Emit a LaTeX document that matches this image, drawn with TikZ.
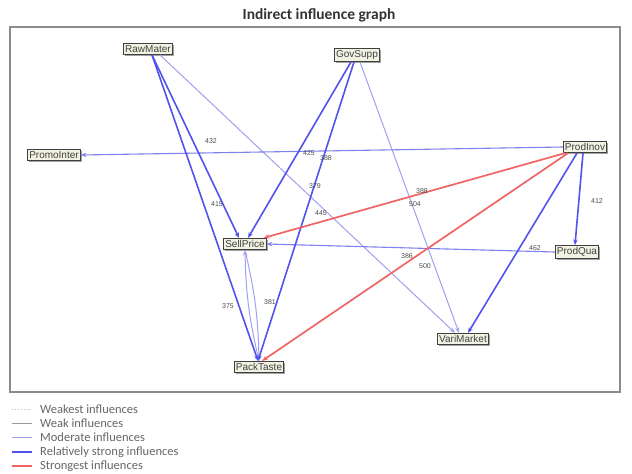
\documentclass[tikz,border=0pt]{standalone}
\usepackage{fontspec}
\setmainfont{Liberation Sans}
\newfontfamily\calib{Carlito}
\usetikzlibrary{arrows.meta,shadows}
\definecolor{strongblue}{HTML}{5252EC}
\definecolor{modblue}{HTML}{A0A0F2}
\definecolor{midblue}{HTML}{8080EE}
\definecolor{strongred}{HTML}{F06464}
\definecolor{nodefill}{HTML}{F2F2E2}
\tikzset{
  vnode/.style={draw=black!75, fill=nodefill, line width=0.9pt, inner xsep=1.6pt, inner ysep=2pt,
     font=\fontsize{10}{11}\selectfont, text=black!75,
     drop shadow={shadow xshift=1.8pt, shadow yshift=-1.8pt, fill=black!45, opacity=0.8}},
  tip/.style={-{Stealth[length=5.5pt,width=4.5pt]}},
  strong/.style={tip, draw=strongblue, line width=1.6pt},
  moderate/.style={tip, draw=modblue, line width=1pt},
  middle/.style={tip, draw=midblue, line width=1.1pt},
  strongest/.style={tip, draw=strongred, line width=1.7pt},
  elab/.style={font=\fontsize{7}{8}\selectfont, text=black!70, inner sep=0.5pt},
  legtext/.style={anchor=west, font=\calib\fontsize{12.5}{13}\selectfont, text=black!60, inner sep=0pt},
}
\begin{document}
\begin{tikzpicture}[x=1pt,y=-1pt]
\useasboundingbox (0,0) rectangle (632,474);
% title and frame
\node[font=\calib\bfseries\fontsize{15.5}{17}\selectfont, text=black!80] (title) at (319,15) {Indirect influence graph};
\draw[black!45, line width=1.2pt] (10,27) rectangle (620,392);
% nodes
\node[vnode] (raw) at (148,49) {RawMater};
\node[vnode] (gov) at (357,55) {GovSupp};
\node[vnode] (promo) at (54,155) {PromoInter};
\node[vnode] (inov) at (585,147) {ProdInov};
\node[vnode] (sell) at (245,244) {SellPrice};
\node[vnode] (qua) at (577,252) {ProdQua};
\node[vnode] (vari) at (463,339) {VariMarket};
\node[vnode] (pack) at (259,367) {PackTaste};
% moderate edges
\draw[moderate] ([xshift=12pt]raw.south) -- ([xshift=-8pt]vari.north);
\draw[moderate] ([xshift=3pt]gov.south) -- ([xshift=-4pt]vari.north);
\draw[moderate] (sell.south) to[bend left=6] (pack.north);
\draw[moderate] (pack.north) to[bend left=6] (sell.south);
\draw[middle] (inov.west) -- (promo.east);
\draw[middle] (qua.west) -- (sell.east);
% strong edges
\draw[strong] ([xshift=4pt]raw.south) -- ([xshift=-6pt]sell.north);
\draw[strong] ([xshift=4pt]raw.south) -- ([xshift=-1pt]pack.north);
\draw[strong] ([xshift=-6pt]gov.south) -- ([xshift=3pt]sell.north);
\draw[strong] ([xshift=-3pt]gov.south) -- ([xshift=-1pt]pack.north);
\draw[strong] ([xshift=-8pt]inov.south) -- ([xshift=5pt]vari.north);
\draw[strong] ([xshift=-2pt]inov.south) -- ([xshift=-2pt]qua.north);
% strongest edges
\draw[strongest] ([xshift=-20pt]inov.south) -- ([xshift=-3pt]sell.north east);
\draw[strongest] ([xshift=-17pt]inov.south) -- ([xshift=-22pt]pack.north east);
% edge labels
\node[elab] (l432) at (211,141) {432};
\node[elab] (l415) at (217,204) {415};
\node[elab] (l425) at (309,153) {425};
\node[elab] (l388a) at (326,158) {388};
\node[elab] (l379) at (315,186) {379};
\node[elab] (l445) at (321,213) {445};
\node[elab] (l504) at (415,204) {504};
\node[elab] (l388b) at (422,191) {388};
\node[elab] (l412) at (597,201) {412};
\node[elab] (l462) at (535,248) {462};
\node[elab] (l386) at (407,256) {386};
\node[elab] (l500) at (425,266) {500};
\node[elab] (l375) at (228,306) {375};
\node[elab] (l381) at (270,302) {381};
% legend
\coordinate (a1) at (12,409); \coordinate (b1) at (32,409);
\coordinate (a2) at (12,423); \coordinate (b2) at (32,423);
\coordinate (a3) at (12,437); \coordinate (b3) at (32,437);
\coordinate (a4) at (12,452); \coordinate (b4) at (32,452);
\coordinate (a5) at (12,466); \coordinate (b5) at (32,466);
\draw[black!25, dotted, line width=0.9pt] (a1) -- (b1);
\draw[black!40, line width=0.9pt] (a2) -- (b2);
\draw[modblue, line width=0.9pt] (a3) -- (b3);
\draw[strongblue, line width=1.6pt] (a4) -- (b4);
\draw[strongred, line width=1.6pt] (a5) -- (b5);
\node[legtext] (t1) at (40,409) {Weakest influences};
\node[legtext] (t2) at (40,423) {Weak influences};
\node[legtext] (t3) at (40,437) {Moderate influences};
\node[legtext] (t4) at (40,452) {Relatively strong influences};
\node[legtext] (t5) at (40,466) {Strongest influences};
\end{tikzpicture}
\end{document}
